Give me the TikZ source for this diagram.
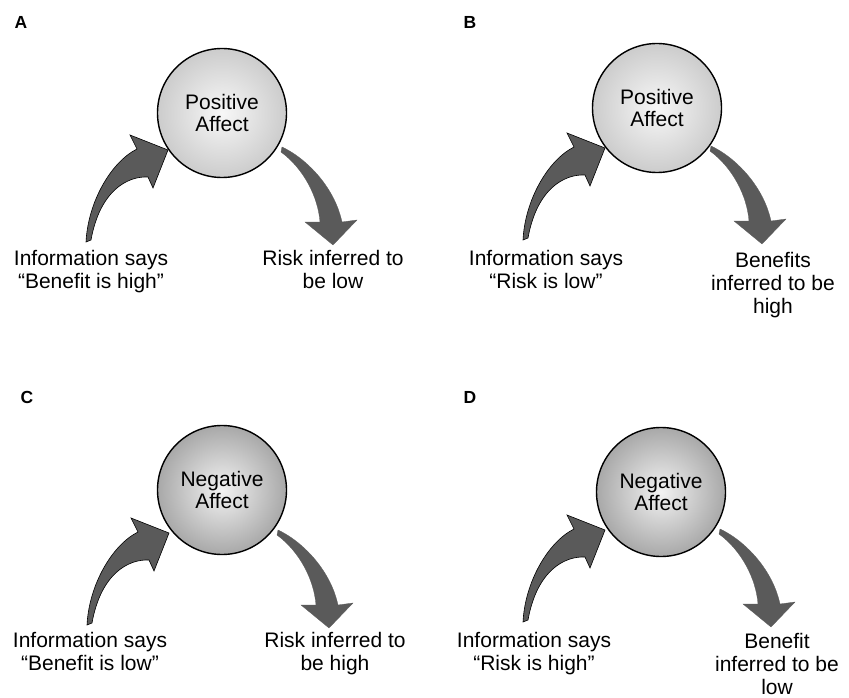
\documentclass[tikz,border=0pt]{standalone}
\usepackage{fontspec}
\setmainfont{Liberation Sans}
\definecolor{arrowgray}{RGB}{90,90,90}
\tikzset{
  affect/.style={circle, draw=black, line width=1.4pt, minimum size=129pt, inner sep=0pt,
    align=center, font=\fontsize{21}{21.5}\selectfont},
  posaff/.style={inner color=white!97!black, outer color=black!20},
  negaff/.style={inner color=black!5, outer color=black!34},
  lbl/.style={align=center, anchor=north, inner sep=0pt, font=\fontsize{21}{23}\selectfont},
  panel/.style={inner sep=0pt, font=\fontsize{17.5}{17.5}\selectfont\bfseries},
  inarrow/.style={fill=arrowgray, draw=black, line width=0.6pt, line join=miter},
  outarrow/.style={fill=arrowgray, draw=arrowgray, line width=0.3pt},
}
\newcommand{\inarrowpath}{(0,0) .. controls (2,-40) and (25,-80) .. (51,-93) -- (44,-107) -- (82,-92) -- (67,-54) -- (62,-65) .. controls (42,-66) and (14,-52) .. (5,-2) -- cycle}
\newcommand{\outarrowpath}{(0,0) .. controls (22,10) and (52,38) .. (60,75) -- (75,73) -- (51,98) -- (23,75) -- (38,75) .. controls (36,50) and (22,22) .. (-1,5) -- cycle}
\begin{document}
\begin{tikzpicture}[x=1pt,y=-1pt]
\useasboundingbox (0,0) rectangle (849,698);
% anchor coordinates for arrows
\coordinate (inA) at (86,242);  \coordinate (outA) at (282,147);
\coordinate (inB) at (523,240); \coordinate (outB) at (711,146);
\coordinate (inC) at (87,625);  \coordinate (outC) at (278,530);
\coordinate (inD) at (523,622); \coordinate (outD) at (720,529);
% arrows
\foreach \c in {inA,inB,inC,inD}{
  \begin{scope}[shift={(\c)}]
    \path[inarrow] \inarrowpath;
  \end{scope}
}
\foreach \c in {outA,outB,outC,outD}{
  \begin{scope}[shift={(\c)}]
    \path[outarrow] \outarrowpath;
  \end{scope}
}
% panel labels
\node[panel] (labA) at (21,22) {A};
\node[panel] (labB) at (470,22) {B};
\node[panel] (labC) at (27,397) {C};
\node[panel] (labD) at (470,397) {D};
% circles
\node[affect, posaff] (cA) at (222,113) {Positive\\Affect};
\node[affect, posaff] (cB) at (657,108) {Positive\\Affect};
\node[affect, negaff] (cC) at (222,490) {Negative\\Affect};
\node[affect, negaff] (cD) at (661,492) {Negative\\Affect};
% texts
\node[lbl] (tAl) at (91,250) {Information says\\“Benefit is high”};
\node[lbl] (tAr) at (333,250) {Risk inferred to\\be low};
\node[lbl] (tBl) at (546,250) {Information says\\“Risk is low”};
\node[lbl] (tBr) at (773,252) {Benefits\\inferred to be\\high};
\node[lbl] (tCl) at (90,632) {Information says\\“Benefit is low”};
\node[lbl] (tCr) at (335,632) {Risk inferred to\\be high};
\node[lbl] (tDl) at (534,632) {Information says\\“Risk is high”};
\node[lbl] (tDr) at (777,633) {Benefit\\inferred to be\\low};
\end{tikzpicture}
\end{document}
